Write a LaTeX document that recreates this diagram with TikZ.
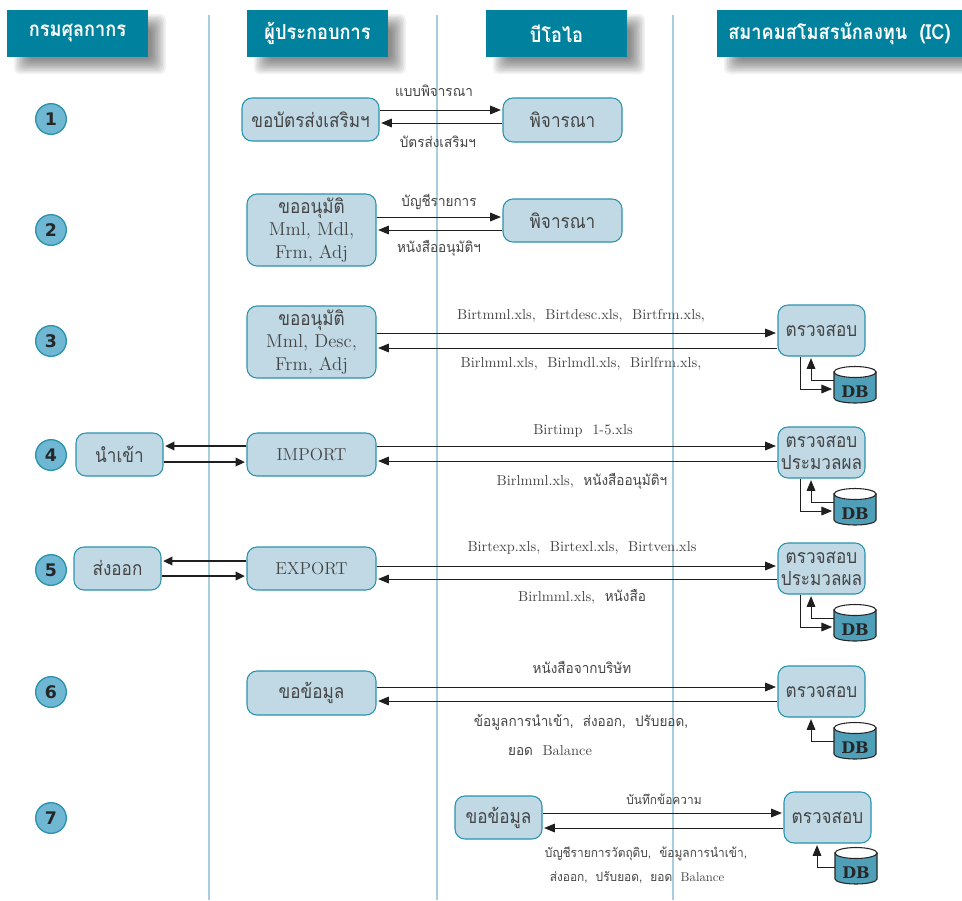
\documentclass[tikz,border=0pt]{standalone}
\usepackage{fontspec}
\newfontfamily\thai[Script=Thai,FakeStretch=0.88]{Loma}
\newfontfamily\thail[Script=Thai,FakeStretch=0.94]{Loma}
\newfontfamily\slabb{DejaVu Serif}
\newfontfamily\numf{DejaVu Sans}
\newcommand\ltn{\rmfamily\fontsize{14}{16.5}\selectfont}
\newcommand\ltnb{\rmfamily\fontsize{13}{16.5}\selectfont}
\usetikzlibrary{arrows.meta}
\definecolor{headc}{HTML}{00829F}
\definecolor{boxc}{HTML}{C0D9E5}
\definecolor{edgec}{HTML}{2A93AE}
\definecolor{lanec}{HTML}{A8CEDE}
\definecolor{circc}{HTML}{6FB7D2}
\definecolor{dbc}{HTML}{4F9FB9}
\definecolor{txtc}{HTML}{454545}
\tikzset{
  x=0.75pt,y=-0.75pt,
  lane/.style={draw=lanec,line width=1.6pt},
  header/.style={fill=headc,text=white,inner sep=0pt,font=\thai\bfseries\fontsize{15.5}{17}\selectfont,minimum height=35.25pt},
  pbox/.style={draw=edgec,fill=boxc,line width=0.8pt,rounded corners=7.5pt,inner sep=0pt,text=txtc,align=center,font=\thai\fontsize{14.6}{16.8}\selectfont},
  stepnum/.style={circle,draw=edgec,fill=circc,line width=1pt,minimum size=23pt,inner sep=0pt,text=black!85,font=\numf\bfseries\fontsize{13}{15}\selectfont},
  lbl/.style={inner sep=0pt,text=txtc,align=center,font=\fontsize{10.8}{13}\selectfont},
  smalllbl/.style={lbl,font=\fontsize{9.5}{11}\selectfont},
  flowline/.style={draw=black!88,line width=0.7pt,shorten >=1.2pt,-{Triangle[length=8pt,width=6.5pt]}},
  thickflow/.style={draw=black!88,line width=1.3pt,shorten >=1.2pt,-{Triangle[length=7pt,width=6.5pt]}},
  dbtext/.style={inner sep=0pt,text=black!85,font=\slabb\bfseries\fontsize{12}{13}\selectfont,minimum width=31.5pt,minimum height=22pt},
}
\newcommand\hdr[4]{%
  \foreach \s in {0,...,9}{\fill[black,opacity=0.055,rounded corners=4pt] (#2+7+1.6*\s,14+1.6*\s) rectangle (#3+18-1.6*\s,74-1.6*\s);}
  \node[header,minimum width={(#3-#2)*0.75pt}] (#1) at ({(#2+#3)/2},33.5) {\raisebox{-2.5pt}{#4}};}
\newcommand\pb[7]{\node[pbox,minimum width={(#3-#2)*0.75pt},minimum height={(#5-#4)*0.75pt}] (#1) at ({(#2+#3)/2},{(#4+#5)/2}) {#6};}
\newcommand\flow[4][flowline]{\coordinate (fy) at (0,#4); \draw[#1] (#2 |- fy) -- (#3 |- fy);}
\newcommand\dbn[4]{% name, left x, top y, bottom y
  \fill[dbc,draw=black!85,line width=0.8pt] (#2,#3+6) -- (#2,#4-5) arc[start angle=180,end angle=0,x radius=21,y radius=5] -- (#2+42,#3+6) -- cycle;
  \draw[fill=white,draw=black!85,line width=0.8pt] (#2+21,#3+6) ellipse[x radius=21,y radius=5.5];
  \node[dbtext] (#1) at (#2+21,{(#3+#4)/2+7}) {DB};}
\newcommand\dbup[4]{% db, box, x, y
  \coordinate (fx) at (#3,0); \coordinate (fy) at (0,#4);
  \draw[flowline] (#1.west |- fy) -- (fx |- fy) -- (fx |- #2.south);}
\newcommand\dbdown[4]{%
  \coordinate (fx) at (#3,0); \coordinate (fy) at (0,#4);
  \draw[flowline] (fx |- #2.south) -- (fx |- fy) -- (#1.west |- fy);}
\begin{document}
\begin{tikzpicture}
\useasboundingbox (0,0) rectangle (962,900);
\fill[white] (0,0) rectangle (962,900);
% lanes
\coordinate (la) at (209,15); \coordinate (laz) at (209,900);
\coordinate (lb) at (437,15); \coordinate (lbz) at (437,900);
\coordinate (lc) at (673,15); \coordinate (lcz) at (673,900);
\draw[lane] (la) -- (laz); \draw[lane] (lb) -- (lbz); \draw[lane] (lc) -- (lcz);
% headers
\hdr{h1}{7}{148}{กรมศุลกากร}
\hdr{h2}{247}{388}{ผู้ประกอบการ}
\hdr{h3}{486}{627}{บีโอไอ}
\hdr{h4}{717}{962}{สมาคมสโมสรนักลงทุน\ \ (IC)}
% numbers
\node[stepnum] (n1) at (51,119) {1};
\node[stepnum] (n2) at (51,230) {2};
\node[stepnum] (n3) at (51,341) {3};
\node[stepnum] (n4) at (51,455) {4};
\node[stepnum] (n5) at (51,570) {5};
\node[stepnum] (n6) at (51,692) {6};
\node[stepnum] (n7) at (51,818) {7};
% boxes
\pb{a1}{242}{379}{98}{141}{ขอบัตรส่งเสริมฯ}{}
\pb{p1}{503}{622}{98}{142}{พิจารณา}{}
\pb{a2}{247}{376}{194}{266}{ขออนุมัติ\\{\ltn Mml,\ Mdl,}\\{\ltn Frm,\ Adj}}{}
\pb{p2}{503}{622}{199}{242}{พิจารณา}{}
\pb{a3}{247}{376}{306}{378}{ขออนุมัติ\\{\ltn Mml,\ Desc,}\\{\ltn Frm,\ Adj}}{}
\pb{c3}{778}{865}{305}{356}{ตรวจสอบ}{}
\pb{i4}{76}{163}{433}{476}{นำเข้า}{}
\pb{a4}{247}{376}{433}{476}{\ltnb IMPORT}{}
\pb{c4}{778}{865}{427}{478}{ตรวจสอบ\\ประมวลผล}{}
\pb{e5}{74}{161}{547}{590}{ส่งออก}{}
\pb{a5}{247}{376}{547}{590}{\ltnb EXPORT}{}
\pb{c5}{778}{865}{543}{594}{ตรวจสอบ\\ประมวลผล}{}
\pb{a6}{247}{376}{671}{715}{ขอข้อมูล}{}
\pb{c6}{778}{865}{666}{717}{ตรวจสอบ}{}
\pb{a7}{455}{542}{796}{839}{ขอข้อมูล}{}
\pb{c7}{784}{871}{792}{843}{ตรวจสอบ}{}
% databases
\dbn{d3}{834}{366}{403}
\dbn{d4}{834}{488}{525}
\dbn{d5}{834}{604}{641}
\dbn{d6}{834}{722}{759}
\dbn{d7}{835}{847}{884}
% flows
\flow{a1.east}{p1.west}{110}
\flow{p1.west}{a1.east}{123}
\flow{a2.east}{p2.west}{217}
\flow{p2.west}{a2.east}{230}
\flow{a3.east}{c3.west}{333}
\flow{c3.west}{a3.east}{348}
\flow{a4.east}{c4.west}{446}
\flow{c4.west}{a4.east}{461}
\flow{a5.east}{c5.west}{566}
\flow{c5.west}{a5.east}{579}
\flow{a6.east}{c6.west}{687}
\flow{c6.west}{a6.east}{701}
\flow{a7.east}{c7.west}{813}
\flow{c7.west}{a7.east}{828}
\flow[thickflow]{a4.west}{i4.east}{446}
\flow[thickflow]{i4.east}{a4.west}{462}
\flow[thickflow]{a5.west}{e5.east}{561}
\flow[thickflow]{e5.east}{a5.west}{576}
% database links
\dbup{d3}{c3}{811}{380} \dbdown{d3}{c3}{800}{389}
\dbup{d4}{c4}{811}{502} \dbdown{d4}{c4}{800}{511}
\dbup{d5}{c5}{811}{618} \dbdown{d5}{c5}{800}{627}
\dbup{d6}{c6}{811}{741}
\dbup{d7}{c7}{817}{867}
% labels
\node[lbl] (t1a) at (434,91) {\thail แบบพิจารณา};
\node[lbl] (t1b) at (438,142) {\thail บัตรส่งเสริมฯ};
\node[lbl] (t2a) at (439,202) {\thail บัญชีรายการ};
\node[lbl] (t2b) at (439,248) {\thail หนังสืออนุมัติฯ};
\node[lbl] (t3a) at (581,316) {Birtmml.xls,\ \ Birtdesc.xls,\ \ Birtfrm.xls,};
\node[lbl] (t3b) at (581,364) {Birlmml.xls,\ \ Birlmdl.xls,\ \ Birlfrm.xls,};
\node[lbl] (t4a) at (583,431) {Birtimp\ \ 1-5.xls};
\node[lbl] (t4b) at (582,481) {Birlmml.xls,\ \ {\thail หนังสืออนุมัติฯ}};
\node[lbl] (t5a) at (582,548) {Birtexp.xls,\ \ Birtexl.xls,\ \ Birtven.xls};
\node[lbl] (t5b) at (582,597) {Birlmml.xls,\ \ {\thail หนังสือ}};
\node[lbl] (t6a) at (582,667) {\thail หนังสือจากบริษัท};
\node[lbl] (t6b) at (581,722) {\thail ข้อมูลการนำเข้า,\ \ ส่งออก,\ \ ปรับยอด,};
\node[lbl] (t6c) at (550,751) {{\thail ยอด}\ \ Balance};
\node[smalllbl] (t7a) at (664,799) {\thail บันทึกข้อความ};
\node[smalllbl] (t7b) at (646,854) {\thail บัญชีรายการวัตถุดิบ,\ \ ข้อมูลการนำเข้า,};
\node[smalllbl] (t7c) at (637,877) {{\thail ส่งออก,\ \ ปรับยอด,\ \ ยอด}\ \ Balance};
\end{tikzpicture}
\end{document}
